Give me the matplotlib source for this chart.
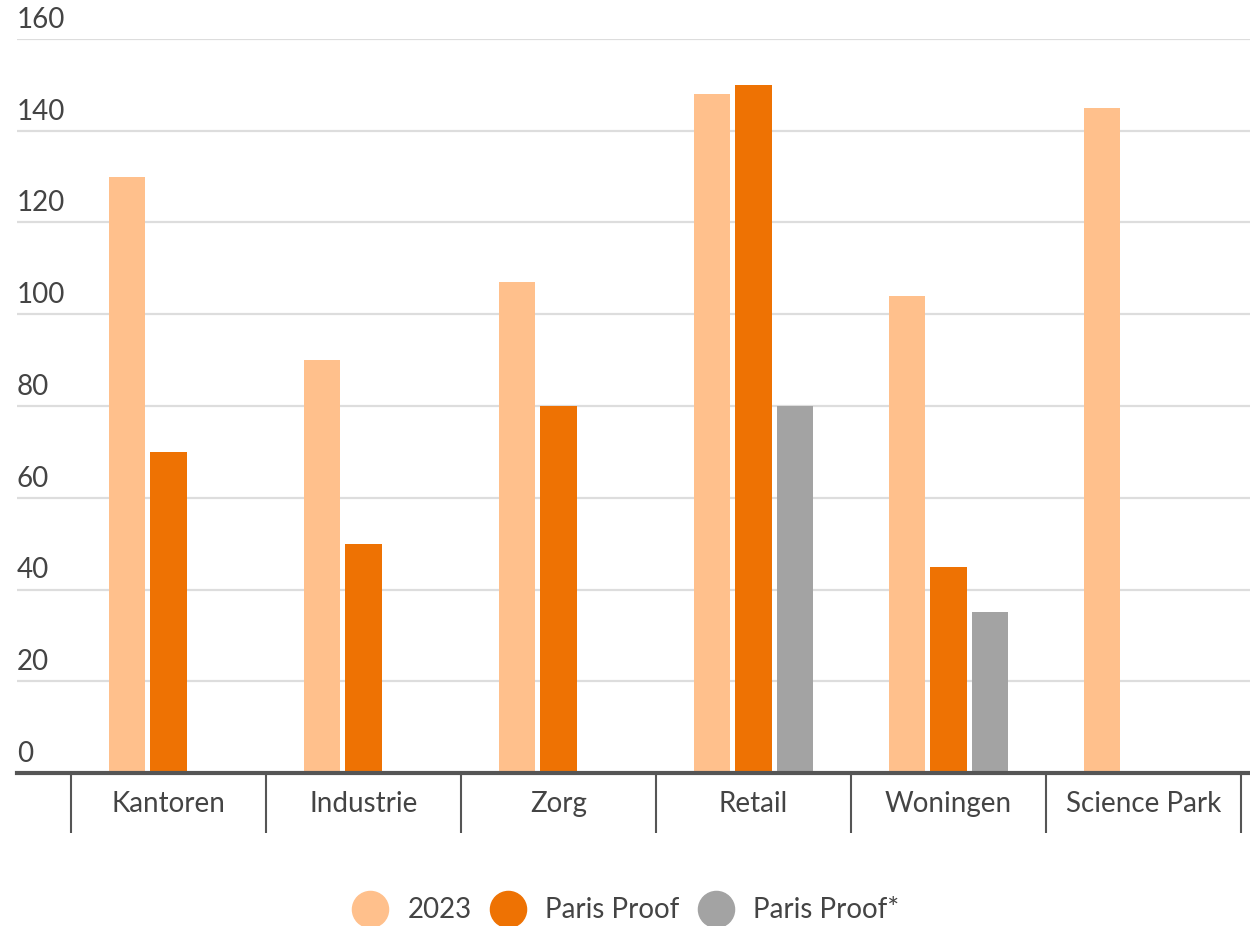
import numpy as np
import matplotlib.pyplot as plt
from matplotlib.lines import Line2D
from matplotlib.transforms import ScaledTranslation

plt.rcParams['font.family'] = ['Lato', 'DejaVu Sans']

categories = ['Kantoren', 'Industrie', 'Zorg', 'Retail', 'Woningen', 'Science Park']
v2023 = [130, 90, 107, 148, 104, 145]
paris_proof = [70, 50, 80, 150, 45, np.nan]
paris_proof_star = [np.nan, np.nan, np.nan, 80, 35, np.nan]
series_names = ['2023', 'Paris Proof', 'Paris Proof*']
colors = ['#FFC08C', '#EE7203', '#A3A3A3']
yticks = [0, 20, 40, 60, 80, 100, 120, 140, 160]

text_col = '#444444'
axis_col = '#555555'

fig = plt.figure(figsize=(12.5, 9.26), dpi=100)
ax = fig.add_axes([0.0136, 0.1652, 0.9864, 0.7927])

x = np.arange(len(categories))
step = 0.215
width = 0.185
for i, (vals, c) in enumerate(zip([v2023, paris_proof, paris_proof_star], colors)):
    ax.bar(x + (i - 1) * step, vals, width=width, color=c, zorder=3)

ax.set_xlim(-0.777, 5.546)
ax.set_ylim(0, 160)

# gridlines
for v in yticks[1:]:
    ax.axhline(v, color='#DDDDDD', lw=1.6, zorder=1)
ax.axhline(0, color=axis_col, lw=3, zorder=4, clip_on=False)

# y labels sit above their gridlines
offset = ScaledTranslation(0, 8 / 72, fig.dpi_scale_trans)
for v in yticks:
    ax.text(0, v, str(v), transform=ax.get_yaxis_transform() + offset, ha='left',
            va='baseline', fontsize=20, color=text_col)

ax.set_yticks([])
for s in ax.spines.values():
    s.set_visible(False)

ax.set_xticks(x)
ax.set_xticklabels(categories, fontsize=20, color=text_col)
ax.tick_params(axis='x', which='major', length=0, pad=13)
ax.set_xticks(np.arange(len(categories) + 1) - 0.5, minor=True)
ax.tick_params(axis='x', which='minor', length=43, width=1.5, color=axis_col, direction='out')

handles = [Line2D([], [], marker='o', ls='', markersize=26, markerfacecolor=c, markeredgecolor=c)
           for c in colors]
fig.legend(handles, series_names, loc='lower center', bbox_to_anchor=(0.5, -0.024), ncol=3,
           frameon=False, fontsize=20, handletextpad=0.65, columnspacing=0.6,
           labelcolor=text_col, handlelength=1.4)

fig.savefig('out.png', dpi=100)
